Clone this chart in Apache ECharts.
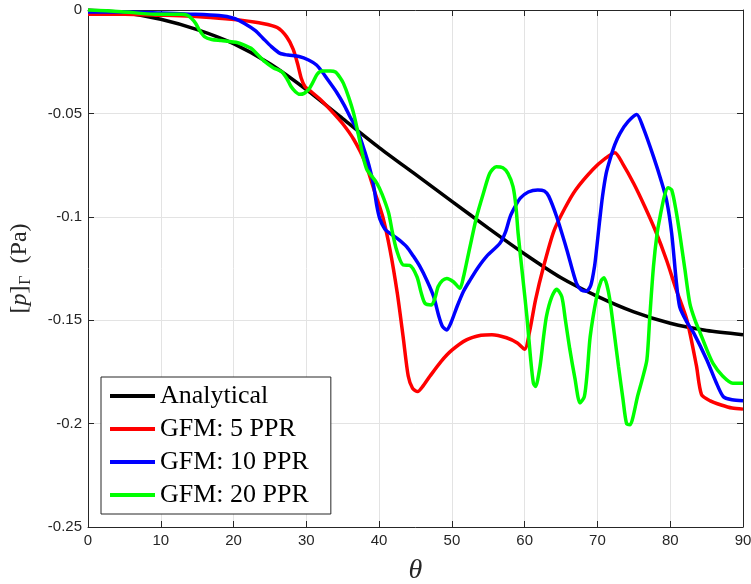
<!DOCTYPE html>
<html>
<head>
<meta charset="utf-8">
<script src="https://cdn.jsdelivr.net/npm/echarts@6/dist/echarts.min.js"></script>
<style>
  html, body { margin: 0; padding: 0; background: #fff; }
  #chart { width: 751px; height: 584px; }
</style>
</head>
<body>
<div id="chart"></div>
<script>
// Surface pressure [p]_Γ (Pa) versus angle θ (degrees): [theta, pressure] pairs
const seriesNames = ['Analytical', 'GFM: 5 PPR', 'GFM: 10 PPR', 'GFM: 20 PPR'];

const analytical = [
  [0, 0], [5, -0.0013], [10, -0.0045], [15, -0.0095], [20, -0.0163], [25, -0.026],
  [30, -0.0385], [35, -0.0525], [40, -0.0665], [45, -0.0795], [50, -0.0925],
  [55, -0.1055], [60, -0.118], [65, -0.1295], [70, -0.1385], [75, -0.146],
  [80, -0.1515], [85, -0.155], [90, -0.157]
];

const gfm5 = [
  [0, -0.002], [5, -0.002], [10, -0.0025], [14, -0.003], [18, -0.004], [21, -0.005],
  [24, -0.0065], [26, -0.0085], [27.3, -0.013], [28.2, -0.019], [28.8, -0.026],
  [29.3, -0.033], [29.8, -0.037], [30.5, -0.039], [32, -0.0435], [33.5, -0.049],
  [35, -0.055], [36.5, -0.0625], [38, -0.073], [39.4, -0.088], [40.5, -0.1],
  [41.5, -0.116], [42.5, -0.137], [43.3, -0.158], [44, -0.177], [44.6, -0.183],
  [45.3, -0.1845], [46, -0.182], [47, -0.177], [48.5, -0.17], [50, -0.1645],
  [52, -0.1595], [54, -0.1573], [55.5, -0.157], [57.5, -0.1585], [59, -0.161],
  [60, -0.164], [60.7, -0.155], [61.5, -0.14], [62.6, -0.124], [64, -0.107],
  [65.5, -0.096], [67, -0.087], [69.4, -0.077], [71, -0.072], [72.4, -0.069],
  [73.5, -0.0745], [75, -0.084], [76.5, -0.095], [78, -0.107], [79.5, -0.121],
  [80.8, -0.135], [82.3, -0.15], [83.6, -0.172], [84.3, -0.186], [85.5, -0.189],
  [87, -0.191], [88.5, -0.1925], [90, -0.193]
];

const gfm10 = [
  [0, -0.001], [5, -0.001], [10, -0.0015], [14, -0.002], [18, -0.0027], [20, -0.004],
  [21.5, -0.0065], [23, -0.01], [24, -0.0135], [25.2, -0.0177], [26.4, -0.021],
  [27.5, -0.0218], [29, -0.0225], [30.3, -0.0242], [31.4, -0.0266], [32.2, -0.03],
  [32.8, -0.033], [34.2, -0.04], [35.2, -0.046], [36, -0.0516], [37, -0.058],
  [37.8, -0.066], [38.6, -0.075], [39.2, -0.084], [39.7, -0.095], [40.1, -0.101],
  [40.8, -0.106], [41.5, -0.108], [42.7, -0.111], [43.8, -0.1145], [44.7, -0.119],
  [45.6, -0.124], [46.6, -0.131], [47.5, -0.1386], [48.2, -0.148], [48.7, -0.153],
  [49.3, -0.1547], [49.9, -0.151], [50.7, -0.1435], [51.6, -0.136], [52.5, -0.1306],
  [53.6, -0.1245], [54.8, -0.119], [56.6, -0.1128], [57.4, -0.107], [58, -0.1],
  [58.7, -0.095], [59.4, -0.091], [60.5, -0.088], [61.8, -0.087], [62.7, -0.0875],
  [63.3, -0.09], [64.4, -0.1], [65.8, -0.116], [67.1, -0.132], [67.8, -0.1355],
  [68.5, -0.136], [69.1, -0.133], [69.6, -0.124], [69.9, -0.115], [70.3, -0.102],
  [70.7, -0.09], [71.2, -0.079], [71.7, -0.0725], [72.4, -0.065], [73.1, -0.0596],
  [74.2, -0.054], [75.4, -0.0505], [76.3, -0.057], [77.7, -0.0709], [78.8, -0.083],
  [79.5, -0.092], [80.2, -0.108], [80.8, -0.13], [81.3, -0.1435], [82.3, -0.151],
  [83.2, -0.156], [85, -0.169], [86.3, -0.18], [87.3, -0.187], [88.5, -0.1885],
  [90, -0.189]
];

const gfm20 = [
  [0, 0], [4.6, -0.0008], [9.2, -0.002], [12.8, -0.002], [13.6, -0.0025], [14.2, -0.004],
  [14.8, -0.0065], [15.3, -0.0097], [16, -0.0129], [17, -0.0143], [18.3, -0.0148],
  [20.6, -0.0158], [21.5, -0.017], [22.4, -0.0185], [23.3, -0.0215], [24.3, -0.025],
  [25.5, -0.028], [26.6, -0.0298], [27.3, -0.033], [27.9, -0.037], [28.5, -0.0395],
  [29.1, -0.0408], [29.7, -0.0403], [30.3, -0.0385], [30.9, -0.035], [31.5, -0.031],
  [32.2, -0.0295], [33.3, -0.0295], [34, -0.03], [34.6, -0.0325], [35.1, -0.0355],
  [35.8, -0.042], [36.5, -0.05], [37.2, -0.061], [37.8, -0.071], [38.3, -0.077],
  [38.7, -0.079], [39.7, -0.0838], [40.4, -0.089], [41.3, -0.098], [41.8, -0.107],
  [42.4, -0.116], [43.3, -0.1233], [44.2, -0.1235], [45.2, -0.129], [45.8, -0.137],
  [46.3, -0.1418], [47.2, -0.1426], [47.7, -0.139], [48.1, -0.1338], [48.7, -0.1308],
  [49.3, -0.1298], [50.2, -0.1314], [51.1, -0.1346], [51.6, -0.129], [52, -0.1225],
  [52.7, -0.111], [53.4, -0.1], [54.3, -0.089], [55.2, -0.079], [56.1, -0.0758],
  [57, -0.0763], [57.7, -0.079], [58.4, -0.0854], [58.8, -0.095], [59.1, -0.108],
  [59.7, -0.128], [60.3, -0.148], [60.8, -0.168], [61.2, -0.1805], [61.5, -0.182],
  [62.1, -0.1725], [62.6, -0.158], [63, -0.148], [63.7, -0.139], [64.4, -0.135],
  [65.1, -0.1386], [65.6, -0.15], [66.2, -0.164], [66.9, -0.178], [67.6, -0.19],
  [68.2, -0.187], [68.6, -0.175], [69, -0.158], [69.9, -0.1386], [70.5, -0.131],
  [70.9, -0.1295], [71.3, -0.133], [71.7, -0.14], [72.3, -0.156], [72.9, -0.1725],
  [73.5, -0.188], [74, -0.2], [74.5, -0.2005], [74.9, -0.1966], [75.5, -0.187],
  [76.2, -0.178], [76.8, -0.169], [77.2, -0.148], [77.7, -0.124], [78.2, -0.108],
  [78.6, -0.1], [79.2, -0.09], [79.7, -0.086], [80.2, -0.087], [80.8, -0.097],
  [81.3, -0.108], [82, -0.125], [82.7, -0.142], [83.4, -0.15], [84.1, -0.156],
  [85, -0.164], [85.9, -0.171], [87.2, -0.177], [88.6, -0.1805], [90, -0.1805]
];

const seriesData = [analytical, gfm5, gfm10, gfm20];
const seriesColors = ['#000000', '#ff0000', '#0000ff', '#00ff00'];

const axisInk = '#262626';
const tickFont = { fontFamily: 'Liberation Sans, Arial, sans-serif', fontSize: 15, color: axisInk };

const chart = echarts.init(document.getElementById('chart'), null, { renderer: 'canvas' });

function frameAxis(position, extra) {
  return Object.assign({
    type: 'value',
    position: position,
    axisLine: { show: true, onZero: false, lineStyle: { color: axisInk, width: 1 } },
    axisTick: { show: true, inside: true, length: 6, lineStyle: { color: axisInk } },
    axisLabel: { show: false },
    splitLine: { show: false }
  }, extra);
}

chart.setOption({
  backgroundColor: '#ffffff',
  animation: false,
  grid: { left: 88, top: 10, right: 8, bottom: 57, containLabel: false, outerBoundsMode: 'none' },
  xAxis: [
    frameAxis('bottom', {
      min: 0, max: 90, interval: 10,
      axisLabel: Object.assign({ show: true, margin: 6 }, tickFont),
      splitLine: { show: true, lineStyle: { color: '#e3e3e3', width: 1 } },
      name: 'θ',
      nameLocation: 'middle',
      nameGap: 30,
      nameTextStyle: { fontFamily: 'Liberation Serif, serif', fontStyle: 'italic', fontSize: 28, color: axisInk }
    }),
    frameAxis('top', { min: 0, max: 90, interval: 10 })
  ],
  yAxis: [
    frameAxis('left', {
      min: -0.25, max: 0, interval: 0.05,
      axisLabel: Object.assign({ show: true, margin: 6 }, tickFont),
      splitLine: { show: true, lineStyle: { color: '#e3e3e3', width: 1 } },
      name: '{t|[}{i|p}{t|]}{s|Γ}{t|  (Pa)}',
      nameLocation: 'middle',
      nameGap: 54,
      nameRotate: 90,
      nameTextStyle: {
        color: axisInk,
        rich: {
          t: { fontFamily: 'Liberation Serif, serif', fontSize: 24, color: axisInk },
          i: { fontFamily: 'Liberation Serif, serif', fontSize: 24, fontStyle: 'italic', color: axisInk },
          s: { fontFamily: 'Liberation Serif, serif', fontSize: 16, color: axisInk, padding: [12, 0, 0, 1] }
        }
      }
    }),
    frameAxis('right', { min: -0.25, max: 0, interval: 0.05 })
  ],
  legend: {
    orient: 'vertical',
    left: 101,
    top: 377,
    padding: [4, 22, 4, 9],
    itemGap: 3,
    itemWidth: 45,
    itemHeight: 4,
    icon: 'rect',
    backgroundColor: '#ffffff',
    borderColor: axisInk,
    borderWidth: 1,
    borderRadius: 0,
    selectedMode: false,
    textStyle: { fontFamily: 'Liberation Serif, serif', fontSize: 26, color: '#000', lineHeight: 30 },
    data: seriesNames
  },
  series: seriesNames.map((name, k) => ({
    name: name,
    type: 'line',
    data: seriesData[k],
    xAxisIndex: 0,
    yAxisIndex: 0,
    showSymbol: false,
    smooth: 0.25,
    color: seriesColors[k],
    lineStyle: { color: seriesColors[k], width: 3.5 },
    z: 2 + k
  }))
});
</script>
</body>
</html>
